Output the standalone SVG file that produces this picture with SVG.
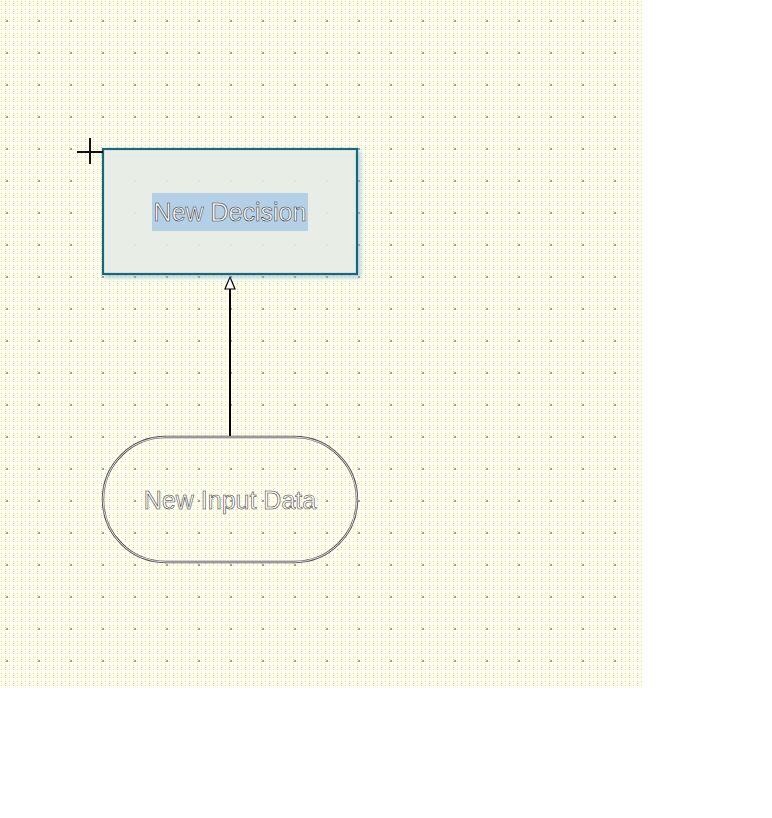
<svg xmlns="http://www.w3.org/2000/svg" width="772" height="818" viewBox="0 0 772 818">
<style>
.lbl{font-family:"Liberation Sans",Arial,sans-serif;font-size:25px;fill:#ffffff;stroke:#333;stroke-width:0.55;text-anchor:middle;dominant-baseline:central}
.conn{stroke:#000;stroke-width:2;fill:none}
</style>
<defs>
<pattern id="fine" width="4" height="4" patternUnits="userSpaceOnUse">
<rect x="1" y="1" width="1" height="1" fill="#ece35a"/>
</pattern>
<pattern id="fine2" width="8" height="8" patternUnits="userSpaceOnUse">
<rect x="5" y="3" width="1" height="1" fill="#c4c4ea"/>
</pattern>
<pattern id="major" x="6" y="20" width="32" height="32" patternUnits="userSpaceOnUse">
<rect x="0" y="0" width="2" height="2" fill="#a0a0a0"/>
</pattern>
<filter id="sh" x="-10%" y="-10%" width="130%" height="130%">
<feDropShadow dx="3" dy="3" stdDeviation="2" flood-color="#7fb6d8" flood-opacity="0.6"/>
</filter>
</defs>
<rect x="0" y="0" width="772" height="818" fill="#fff"/>
<g id="grid">
<rect x="0" y="0" width="642" height="687" fill="#fffef2"/>
<rect x="0" y="0" width="642" height="687" fill="url(#fine)"/>
<rect x="0" y="0" width="642" height="687" fill="url(#fine2)"/>
<rect x="0" y="0" width="642" height="687" fill="url(#major)"/>
</g>
<g id="connectors">
<line class="conn" x1="230" y1="437" x2="230" y2="278"/>
<path d="M230 277 L235 289 L225 289 Z" fill="#fff" stroke="#000" stroke-width="1.2"/>
</g>
<g id="decision">
<rect x="103" y="149" width="254" height="125" fill="#eef0e8" fill-opacity="0.8" stroke="#17697a" stroke-width="2.2" filter="url(#sh)"/>
<rect x="152" y="193" width="156" height="38" fill="#b4d0e6"/>
<text class="lbl" x="230" y="212">New Decision</text>
</g>
<g id="input">
<rect x="103" y="437" width="254" height="125" rx="62.5" ry="62.5" fill="none" stroke="#555" stroke-width="2.4"/>
<rect x="103" y="437" width="254" height="125" rx="62.5" ry="62.5" fill="none" stroke="#fff" stroke-width="0.8"/>
<text class="lbl" x="230" y="500">New Input Data</text>
</g>
<g id="cursor">
<line x1="77" y1="152" x2="103" y2="152" stroke="#111" stroke-width="2"/>
<line x1="90" y1="138" x2="90" y2="164" stroke="#111" stroke-width="2"/>
</g>
</svg>
